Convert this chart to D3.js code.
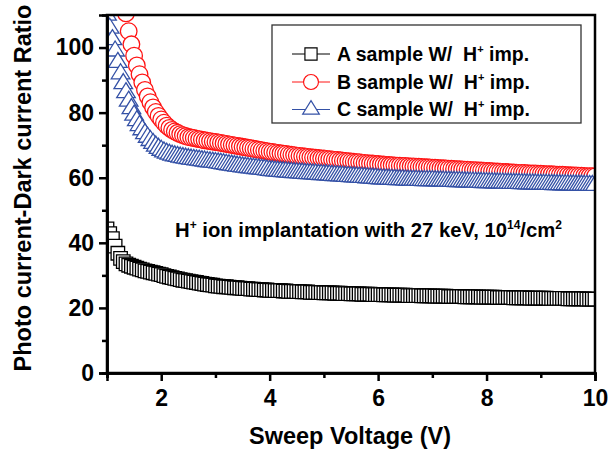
<!DOCTYPE html>
<html>
<head>
<meta charset="utf-8">
<script src="https://cdn.jsdelivr.net/npm/d3@7"></script>
<style>
    body { margin: 0; background: #fff; }
    svg text { font-family: "Liberation Sans", Arial, sans-serif; font-weight: bold; fill: #000; white-space: pre; }
</style>
</head>
<body>
<div id="ratio-chart"></div>
<script>
// sweep voltage (V), one reading every 0.05 V
const voltage = [
    1.00, 1.05, 1.10, 1.15, 1.20, 1.25, 1.30, 1.35, 1.40, 1.45,
    1.50, 1.55, 1.60, 1.65, 1.70, 1.75, 1.80, 1.85, 1.90, 1.95,
    2.00, 2.05, 2.10, 2.15, 2.20, 2.25, 2.30, 2.35, 2.40, 2.45,
    2.50, 2.55, 2.60, 2.65, 2.70, 2.75, 2.80, 2.85, 2.90, 2.95,
    3.00, 3.05, 3.10, 3.15, 3.20, 3.25, 3.30, 3.35, 3.40, 3.45,
    3.50, 3.55, 3.60, 3.65, 3.70, 3.75, 3.80, 3.85, 3.90, 3.95,
    4.00, 4.05, 4.10, 4.15, 4.20, 4.25, 4.30, 4.35, 4.40, 4.45,
    4.50, 4.55, 4.60, 4.65, 4.70, 4.75, 4.80, 4.85, 4.90, 4.95,
    5.00, 5.05, 5.10, 5.15, 5.20, 5.25, 5.30, 5.35, 5.40, 5.45,
    5.50, 5.55, 5.60, 5.65, 5.70, 5.75, 5.80, 5.85, 5.90, 5.95,
    6.00, 6.05, 6.10, 6.15, 6.20, 6.25, 6.30, 6.35, 6.40, 6.45,
    6.50, 6.55, 6.60, 6.65, 6.70, 6.75, 6.80, 6.85, 6.90, 6.95,
    7.00, 7.05, 7.10, 7.15, 7.20, 7.25, 7.30, 7.35, 7.40, 7.45,
    7.50, 7.55, 7.60, 7.65, 7.70, 7.75, 7.80, 7.85, 7.90, 7.95,
    8.00, 8.05, 8.10, 8.15, 8.20, 8.25, 8.30, 8.35, 8.40, 8.45,
    8.50, 8.55, 8.60, 8.65, 8.70, 8.75, 8.80, 8.85, 8.90, 8.95,
    9.00, 9.05, 9.10, 9.15, 9.20, 9.25, 9.30, 9.35, 9.40, 9.45,
    9.50, 9.55, 9.60, 9.65, 9.70, 9.75, 9.80, 9.85, 9.90, 9.95,
    10.00
];

const sampleA = [
    44.3, 42.8, 41.3, 39.0, 36.8, 35.2, 34.2, 33.5, 33.1, 32.8,
    32.5, 32.2, 31.9, 31.7, 31.4, 31.2, 31.0, 30.8, 30.6, 30.4,
    30.2, 29.9, 29.7, 29.5, 29.3, 29.1, 28.9, 28.7, 28.5, 28.4,
    28.2, 28.1, 27.9, 27.8, 27.6, 27.5, 27.3, 27.2, 27.1, 27.0,
    26.8, 26.7, 26.6, 26.5, 26.5, 26.4, 26.3, 26.2, 26.2, 26.1,
    26.0, 25.9, 25.9, 25.8, 25.8, 25.7, 25.6, 25.6, 25.5, 25.5,
    25.4, 25.4, 25.3, 25.3, 25.3, 25.2, 25.2, 25.1, 25.1, 25.1,
    25.0, 25.0, 24.9, 24.9, 24.9, 24.8, 24.8, 24.8, 24.7, 24.7,
    24.6, 24.6, 24.6, 24.6, 24.5, 24.5, 24.5, 24.4, 24.4, 24.4,
    24.3, 24.3, 24.3, 24.3, 24.2, 24.2, 24.2, 24.2, 24.1, 24.1,
    24.1, 24.1, 24.0, 24.0, 24.0, 24.0, 23.9, 23.9, 23.9, 23.9,
    23.9, 23.8, 23.8, 23.8, 23.8, 23.8, 23.7, 23.7, 23.7, 23.7,
    23.7, 23.6, 23.6, 23.6, 23.6, 23.6, 23.5, 23.5, 23.5, 23.5,
    23.5, 23.5, 23.4, 23.4, 23.4, 23.4, 23.4, 23.4, 23.3, 23.3,
    23.3, 23.3, 23.3, 23.3, 23.2, 23.2, 23.2, 23.2, 23.2, 23.2,
    23.1, 23.1, 23.1, 23.1, 23.1, 23.1, 23.0, 23.0, 23.0, 23.0,
    23.0, 23.0, 23.0, 22.9, 22.9, 22.9, 22.9, 22.9, 22.9, 22.9,
    22.8, 22.8, 22.8, 22.8, 22.8, 22.8, 22.8, 22.7, 22.7, 22.7,
    22.7
];

const sampleB = [
    null, null, null, null, null, null, 113.0, 110.5, 105.0, 101.0,
    97.5, 94.5, 91.8, 89.3, 87.0, 85.0, 83.2, 81.6, 80.2, 79.0,
    77.9, 76.9, 76.0, 75.3, 74.7, 74.2, 73.8, 73.4, 73.1, 72.8,
    72.5, 72.35, 72.2, 72.0, 71.85, 71.7, 71.5, 71.4, 71.25, 71.1,
    71.0, 70.85, 70.7, 70.55, 70.4, 70.25, 70.1, 69.95, 69.8, 69.65,
    69.5, 69.35, 69.2, 69.05, 68.9, 68.75, 68.6, 68.45, 68.3, 68.15,
    68.0, 67.9, 67.75, 67.65, 67.5, 67.4, 67.3, 67.15, 67.05, 66.95,
    66.8, 66.7, 66.6, 66.5, 66.4, 66.3, 66.2, 66.15, 66.05, 65.95,
    65.9, 65.8, 65.7, 65.6, 65.5, 65.45, 65.35, 65.25, 65.15, 65.1,
    65.0, 64.9, 64.8, 64.75, 64.65, 64.55, 64.5, 64.4, 64.35, 64.25,
    64.2, 64.1, 64.05, 63.95, 63.9, 63.85, 63.8, 63.7, 63.7, 63.6,
    63.6, 63.55, 63.5, 63.45, 63.4, 63.35, 63.3, 63.25, 63.2, 63.15,
    63.1, 63.05, 63.0, 62.95, 62.9, 62.85, 62.8, 62.75, 62.7, 62.65,
    62.6, 62.55, 62.5, 62.45, 62.4, 62.35, 62.3, 62.25, 62.2, 62.15,
    62.1, 62.05, 62.0, 61.95, 61.9, 61.85, 61.8, 61.75, 61.7, 61.65,
    61.6, 61.55, 61.5, 61.5, 61.45, 61.4, 61.35, 61.3, 61.3, 61.25,
    61.2, 61.15, 61.1, 61.1, 61.05, 61.0, 60.95, 60.9, 60.9, 60.85,
    60.8, 60.75, 60.7, 60.7, 60.65, 60.6, 60.55, 60.5, 60.5, 60.45,
    60.4
];

const sampleC = [
    110.0, 106.0, 102.5, 99.0, 95.5, 92.0, 89.0, 86.2, 83.6, 81.3,
    79.3, 77.6, 76.1, 74.8, 73.6, 72.5, 71.5, 70.6, 69.8, 69.1,
    68.5, 68.0, 67.6, 67.3, 67.0, 66.8, 66.6, 66.4, 66.25, 66.1,
    65.95, 65.8, 65.7, 65.55, 65.45, 65.3, 65.2, 65.05, 64.95, 64.85,
    64.75, 64.6, 64.5, 64.35, 64.2, 64.05, 63.95, 63.8, 63.65, 63.55,
    63.4, 63.3, 63.2, 63.1, 63.0, 62.9, 62.8, 62.7, 62.6, 62.45,
    62.3, 62.25, 62.15, 62.1, 62.0, 61.95, 61.9, 61.8, 61.75, 61.65,
    61.6, 61.55, 61.5, 61.4, 61.35, 61.3, 61.25, 61.2, 61.1, 61.05,
    61.0, 60.95, 60.9, 60.8, 60.75, 60.7, 60.65, 60.6, 60.5, 60.45,
    60.4, 60.35, 60.3, 60.25, 60.2, 60.15, 60.05, 60.0, 59.95, 59.9,
    59.8, 59.75, 59.7, 59.7, 59.65, 59.6, 59.55, 59.5, 59.5, 59.45,
    59.4, 59.35, 59.35, 59.3, 59.3, 59.25, 59.25, 59.2, 59.2, 59.2,
    59.2, 59.15, 59.1, 59.1, 59.05, 59.0, 59.0, 58.95, 58.95, 58.9,
    58.9, 58.85, 58.8, 58.8, 58.75, 58.75, 58.7, 58.7, 58.65, 58.6,
    58.6, 58.55, 58.55, 58.5, 58.5, 58.45, 58.45, 58.4, 58.4, 58.35,
    58.35, 58.3, 58.3, 58.25, 58.25, 58.2, 58.2, 58.15, 58.15, 58.1,
    58.1, 58.05, 58.05, 58.0, 58.0, 57.95, 57.95, 57.95, 57.9, 57.9,
    57.9, 57.85, 57.85, 57.8, 57.8, 57.8, 57.75, 57.75, 57.7, 57.7,
    57.7
];

const sampleNames = ["A sample W/  H", "B sample W/  H", "C sample W/  H"];
const yTicks = [0, 20, 40, 60, 80, 100];
const yMinorTicks = [10, 30, 50, 70, 90];
const xTicks = [2, 4, 6, 8, 10];
const xMinorTicks = [1, 3, 5, 7, 9];

(function() {
    const width = 614;
    const height = 455;
    const margin = { top: 15, right: 19, bottom: 82, left: 107 };
    const plotW = width - margin.left - margin.right;
    const plotH = height - margin.top - margin.bottom;

    const svg = d3.select("#ratio-chart")
        .append("svg")
        .attr("width", width)
        .attr("height", height);

    const x = d3.scaleLinear().domain([1, 10]).range([margin.left, margin.left + plotW]);
    const y = d3.scaleLinear().domain([0, 110]).range([margin.top + plotH, margin.top]);

    // marker shapes (white filled, like Origin's open symbols)
    const squarePath = d3.symbol(d3.symbolSquare, 13.5 * 13.5)();
    const circlePath = d3.symbol(d3.symbolCircle, Math.PI * 8.3 * 8.3)();
    const trianglePath = "M0,-9.8L9.3,5.2L-9.3,5.2Z";

    const series = [
        { name: sampleNames[0], values: sampleA, color: "#000000", shape: squarePath },
        { name: sampleNames[1], values: sampleB, color: "#ff1414", shape: circlePath },
        { name: sampleNames[2], values: sampleC, color: "#3451a6", shape: trianglePath }
    ];

    svg.append("clipPath")
        .attr("id", "plot-clip")
        .append("rect")
        .attr("x", margin.left)
        .attr("y", margin.top)
        .attr("width", plotW)
        .attr("height", plotH);

    const plot = svg.append("g").attr("clip-path", "url(#plot-clip)");

    series.forEach(s => {
        const pts = voltage.map((v, i) => ({ v: v, r: s.values[i] }))
            .filter(d => d.r != null);
        plot.append("g")
            .selectAll("path")
            .data(pts)
            .enter().append("path")
            .attr("d", s.shape)
            .attr("transform", d => `translate(${x(d.v)},${y(d.r)})`)
            .attr("fill", "#fff")
            .attr("stroke", s.color)
            .attr("stroke-width", 1.3);
    });

    // frame
    svg.append("rect")
        .attr("x", margin.left)
        .attr("y", margin.top)
        .attr("width", plotW)
        .attr("height", plotH)
        .attr("fill", "none")
        .attr("stroke", "#000")
        .attr("stroke-width", 2.5);

    // axes
    svg.append("g")
        .attr("transform", `translate(0,${margin.top + plotH})`)
        .call(d3.axisBottom(x).tickValues(xTicks).tickSize(8).tickPadding(9).tickFormat(d3.format("d")));
    svg.append("g")
        .attr("transform", `translate(0,${margin.top + plotH})`)
        .call(d3.axisBottom(x).tickValues(xMinorTicks).tickSize(5).tickFormat(""));

    svg.append("g")
        .attr("transform", `translate(${margin.left},0)`)
        .call(d3.axisLeft(y).tickValues(yTicks).tickSize(8).tickPadding(5).tickFormat(d3.format("d")));
    svg.append("g")
        .attr("transform", `translate(${margin.left},0)`)
        .call(d3.axisLeft(y).tickValues(yMinorTicks).tickSize(5).tickFormat(""));

    svg.selectAll(".domain").attr("stroke-width", 2.5);
    svg.selectAll(".tick line").attr("stroke-width", 2.5);
    svg.selectAll(".tick text")
        .style("font-size", "23px")
        .style("font-family", "'Liberation Sans', Arial, sans-serif")
        .style("font-weight", "bold")
        .attr("fill", "#000");

    // axis titles
    svg.append("text")
        .attr("x", margin.left + plotW / 2 - 1)
        .attr("y", 444)
        .attr("text-anchor", "middle")
        .style("font-size", "23.5px")
        .text("Sweep Voltage (V)");

    svg.append("text")
        .attr("transform", `translate(31,${margin.top + plotH / 2 - 6}) rotate(-90)`)
        .attr("text-anchor", "middle")
        .style("font-size", "23.5px")
        .text("Photo current-Dark current Ratio");

    // annotation
    const note = svg.append("text")
        .attr("x", 175)
        .attr("y", 237)
        .style("font-size", "20.3px");
    note.append("tspan").text("H");
    note.append("tspan").attr("dy", -8).style("font-size", "12px").text("+");
    note.append("tspan").attr("dy", 8).text(" ion implantation with 27 keV, 10");
    note.append("tspan").attr("dy", -8).style("font-size", "12px").text("14");
    note.append("tspan").attr("dy", 8).text("/cm");
    note.append("tspan").attr("dy", -8).style("font-size", "12px").text("2");

    // legend
    const legend = svg.append("g");
    legend.append("rect")
        .attr("x", 272)
        .attr("y", 25)
        .attr("width", 309)
        .attr("height", 98)
        .attr("fill", "#fff")
        .attr("stroke", "#333")
        .attr("stroke-width", 1.3);

    const rowY = [54, 82, 109.5];
    series.forEach((s, i) => {
        const row = legend.append("g").attr("transform", `translate(0,${rowY[i]})`);
        row.append("line")
            .attr("x1", 292).attr("x2", 330)
            .attr("stroke", s.color)
            .attr("stroke-width", 1);
        row.append("path")
            .attr("d", s.shape)
            .attr("transform", "translate(311,0) scale(0.9)")
            .attr("fill", "#fff")
            .attr("stroke", s.color)
            .attr("stroke-width", 1.3);
        const label = row.append("text")
            .attr("x", 337)
            .attr("y", 6.5)
            .style("font-size", "19.5px");
        label.append("tspan").text(s.name);
        label.append("tspan").attr("dy", -8).style("font-size", "11px").text("+");
        label.append("tspan").attr("dy", 8).text(" imp.");
    });
})();
</script>
</body>
</html>
